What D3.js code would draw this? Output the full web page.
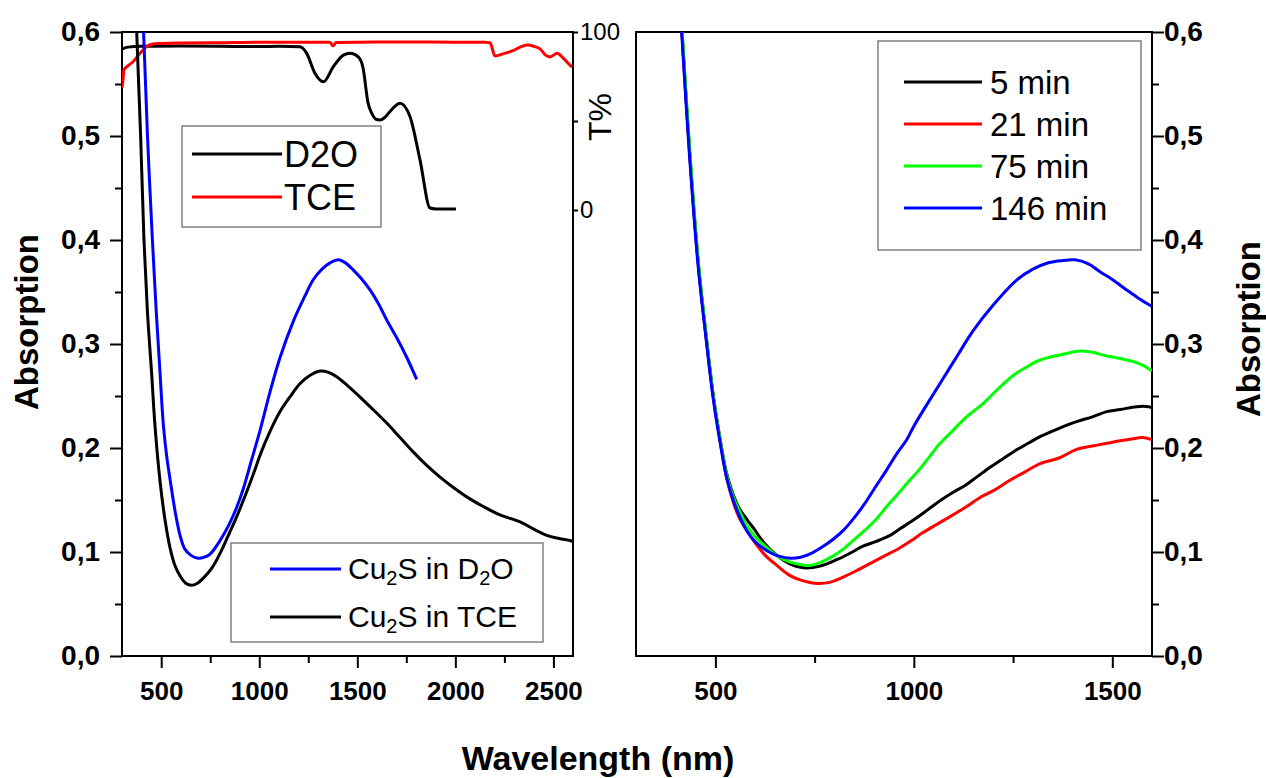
<!DOCTYPE html>
<html>
<head>
<meta charset="utf-8">
<script src="https://cdn.jsdelivr.net/npm/d3@7"></script>
<style>
  body { margin: 0; background: #fff; }
  text { font-family: "Liberation Sans", Arial, sans-serif; fill: #000; }
</style>
</head>
<body>
<script>
// ---- left panel: Cu2S absorption spectra ----
const d2oWl  = [395, 410, 430, 455, 475, 494, 511, 528, 545, 570, 596, 620, 650, 689, 720, 749, 800, 850, 885, 919, 960, 1004, 1055, 1106, 1174, 1230, 1276, 1320, 1361, 1403, 1440, 1480, 1520, 1565, 1610, 1650, 1701, 1750, 1803];
const d2oAbs = [0.70, 0.60, 0.50, 0.40, 0.33, 0.272, 0.222, 0.192, 0.17, 0.14, 0.116, 0.103, 0.097, 0.094, 0.095, 0.098, 0.111, 0.128, 0.143, 0.161, 0.188, 0.217, 0.254, 0.287, 0.322, 0.345, 0.362, 0.372, 0.378, 0.381, 0.378, 0.371, 0.363, 0.352, 0.338, 0.323, 0.306, 0.288, 0.266];

const tceWl  = [360, 375, 395, 412, 430, 451, 468, 494, 520, 545, 570, 596, 625, 655, 685, 715, 760, 800, 840, 885, 930, 970, 1010, 1055, 1106, 1160, 1208, 1260, 1310, 1350, 1395, 1450, 1514, 1580, 1650, 1718, 1786, 1850, 1922, 1990, 2058, 2140, 2228, 2330, 2400, 2466, 2530, 2585, 2600];
const tceAbs = [0.70, 0.60, 0.50, 0.40, 0.33, 0.272, 0.222, 0.168, 0.13, 0.104, 0.087, 0.077, 0.07, 0.068, 0.070, 0.075, 0.085, 0.0987, 0.115, 0.134, 0.155, 0.175, 0.196, 0.216, 0.235, 0.25, 0.262, 0.27, 0.274, 0.273, 0.2686, 0.26, 0.249, 0.237, 0.224, 0.21, 0.196, 0.184, 0.172, 0.162, 0.153, 0.144, 0.1356, 0.129, 0.122, 0.116, 0.113, 0.111, 0.11];

// solvent transmission (T%)
const d2oTWl = [300, 330, 400, 600, 800, 1000, 1100, 1208, 1242, 1284, 1327, 1378, 1429, 1463, 1505, 1529, 1555, 1573, 1595, 1616, 1640, 1680, 1718, 1769, 1820, 1871, 1900, 2003];
const d2oT   = [90.4, 91.5, 92, 92.1, 92, 91.8, 92, 91.7, 88, 76.8, 72, 80.5, 87, 88, 86, 80, 60, 54.5, 51, 50.6, 52, 57, 60, 52.4, 28, 1.1, 0.6, 0.6];
const tceTWl = [300, 305, 310, 330, 356, 392, 426, 458, 600, 800, 1000, 1200, 1360, 1376, 1392, 1600, 1800, 2000, 2150, 2177, 2202, 2250, 2294, 2330, 2366, 2400, 2432, 2460, 2483, 2519, 2549, 2570, 2595];
const tceT   = [68.5, 73, 78.7, 81, 83.3, 88, 91.8, 93.3, 93.8, 94, 94.3, 94.3, 94.2, 92.2, 94.1, 94.4, 94.4, 94.3, 94.2, 94, 86.5, 88, 89.5, 91.5, 92.7, 92, 90.5, 87, 86, 88, 85.5, 83, 80.3];

// ---- right panel: growth in time ----
const timeLabels = ['5 min', '21 min', '75 min', '146 min'];
const wl5   = [405, 415, 435, 457, 475, 495, 512, 528, 545, 560, 580, 598, 620, 657, 690, 721, 764, 807, 840, 872, 904, 936, 968, 1000, 1033, 1065, 1097, 1129, 1158, 1194, 1234, 1258, 1290, 1318, 1360, 1410, 1450, 1486, 1520, 1561, 1585, 1600];
const abs5  = [0.67, 0.605, 0.485, 0.377, 0.313, 0.249, 0.208, 0.176, 0.155, 0.142, 0.131, 0.122, 0.11, 0.096, 0.088, 0.0848, 0.0864, 0.0928, 0.099, 0.1056, 0.11, 0.1152, 0.123, 0.131, 0.14, 0.149, 0.157, 0.164, 0.172, 0.182, 0.192, 0.198, 0.205, 0.211, 0.218, 0.2253, 0.23, 0.235, 0.237, 0.2397, 0.24, 0.239];
const wl21  = [405, 415, 435, 457, 475, 495, 512, 528, 545, 560, 580, 598, 625, 657, 685, 710, 735, 759, 790, 818, 855, 893, 925, 958, 990, 1022, 1055, 1086, 1130, 1172, 1205, 1242, 1280, 1318, 1366, 1410, 1450, 1486, 1520, 1553, 1575, 1600];
const abs21 = [0.67, 0.605, 0.485, 0.377, 0.313, 0.249, 0.207, 0.172, 0.148, 0.133, 0.12, 0.11, 0.097, 0.0864, 0.078, 0.0736, 0.071, 0.0698, 0.071, 0.0752, 0.082, 0.0896, 0.096, 0.1024, 0.11, 0.1184, 0.126, 0.1328, 0.143, 0.1536, 0.16, 0.169, 0.177, 0.185, 0.1904, 0.1987, 0.202, 0.2045, 0.207, 0.209, 0.21, 0.208];
const wl75  = [405, 415, 435, 457, 475, 495, 512, 528, 545, 560, 580, 600, 630, 657, 690, 715, 737, 765, 796, 823, 850, 877, 904, 930, 958, 985, 1011, 1040, 1065, 1091, 1130, 1175, 1210, 1251, 1285, 1318, 1368, 1419, 1450, 1486, 1520, 1553, 1580, 1600];
const abs75 = [0.68, 0.61, 0.49, 0.38, 0.315, 0.25, 0.208, 0.175, 0.153, 0.14, 0.125, 0.115, 0.104, 0.096, 0.09, 0.088, 0.087, 0.09, 0.096, 0.103, 0.112, 0.121, 0.131, 0.143, 0.155, 0.167, 0.178, 0.192, 0.204, 0.214, 0.229, 0.243, 0.256, 0.27, 0.278, 0.2846, 0.2894, 0.2933, 0.292, 0.2885, 0.286, 0.283, 0.279, 0.274];
const wl146  = [405, 415, 435, 457, 475, 495, 512, 528, 545, 560, 580, 600, 635, 660, 689, 715, 743, 770, 796, 823, 850, 877, 904, 930, 958, 982, 1000, 1030, 1066, 1110, 1150, 1200, 1259, 1300, 1335, 1370, 1406, 1440, 1469, 1500, 1536, 1570, 1600];
const abs146 = [0.66, 0.6, 0.48, 0.373, 0.31, 0.246, 0.205, 0.172, 0.15, 0.135, 0.12, 0.11, 0.1, 0.096, 0.094, 0.095, 0.099, 0.105, 0.112, 0.121, 0.133, 0.147, 0.163, 0.178, 0.195, 0.208, 0.221, 0.24, 0.262, 0.289, 0.313, 0.3375, 0.3615, 0.372, 0.3776, 0.38, 0.381, 0.377, 0.3695, 0.362, 0.352, 0.343, 0.336];

const absTicks = [0, 0.1, 0.2, 0.3, 0.4, 0.5, 0.6];
const absMinor = [0.05, 0.15, 0.25, 0.35, 0.45, 0.55];
const xTicksL = [500, 1000, 1500, 2000, 2500];
const xMinorL = [750, 1250, 1750, 2250];
const xTicksR = [500, 1000, 1500];
const xMinorR = [750, 1250];

const width = 1266, height = 778;
const zip = (xs, ys) => xs.map((x, i) => [x, ys[i]]);
const commaFmt = d => d3.format('.1f')(d).replace('.', ',');

const svg = d3.select('body').append('svg')
  .attr('width', width)
  .attr('height', height);

// scales
const xL = d3.scaleLinear().domain([300, 2600]).range([122, 573]);
const yL = d3.scaleLinear().domain([0, 0.6]).range([656, 32]);
const yT = d3.scaleLinear().domain([0, 100]).range([210, 32]);
const xR = d3.scaleLinear().domain([300, 1600]).range([636, 1152]);
const yR = d3.scaleLinear().domain([0, 0.6]).range([656, 32]);

const defs = svg.append('defs');
defs.append('clipPath').attr('id', 'clipL').append('rect')
  .attr('x', 122).attr('y', 32).attr('width', 451).attr('height', 624);
defs.append('clipPath').attr('id', 'clipR').append('rect')
  .attr('x', 636).attr('y', 32).attr('width', 516).attr('height', 624);

const styleAxis = function(g, size, weight) {
  g.select('.domain').remove();
  g.selectAll('line').attr('stroke', '#000').attr('stroke-width', 2);
  g.selectAll('text').attr('font-size', size).attr('font-weight', weight)
    .attr('font-family', '"Liberation Sans", Arial, sans-serif');
};

const drawAxis = function(axis, tx, ty, size, weight) {
  const g = svg.append('g').attr('transform', 'translate(' + tx + ',' + ty + ')').call(axis);
  styleAxis(g, size, weight);
  return g;
};

// ---- left panel axes ----
drawAxis(d3.axisBottom(xL).tickValues(xTicksL).tickSize(12).tickPadding(14).tickFormat(d3.format('d')), 0, 656, 26, 'bold');
drawAxis(d3.axisBottom(xL).tickValues(xMinorL).tickSize(7).tickFormat(''), 0, 656, 26, 'bold');
drawAxis(d3.axisLeft(yL).tickValues(absTicks).tickSize(12).tickPadding(10).tickFormat(commaFmt), 122, 0, 28, 'bold');
drawAxis(d3.axisLeft(yL).tickValues(absMinor).tickSize(7).tickFormat(''), 122, 0, 28, 'bold');
// T% axis
drawAxis(d3.axisRight(yT).tickValues([0, 100]).tickSize(5).tickPadding(2).tickFormat(d3.format('d')), 573, 0, 24, 'normal');
drawAxis(d3.axisRight(yT).tickValues([50]).tickSize(5).tickFormat(''), 573, 0, 24, 'normal');

svg.append('rect').attr('x', 122).attr('y', 32).attr('width', 451).attr('height', 624)
  .attr('fill', 'none').attr('stroke', '#000').attr('stroke-width', 2);

// ---- right panel axes ----
drawAxis(d3.axisBottom(xR).tickValues(xTicksR).tickSize(12).tickPadding(14).tickFormat(d3.format('d')), 0, 656, 26, 'bold');
drawAxis(d3.axisBottom(xR).tickValues(xMinorR).tickSize(7).tickFormat(''), 0, 656, 26, 'bold');
drawAxis(d3.axisRight(yR).tickValues(absTicks).tickSize(12).tickPadding(0).tickFormat(commaFmt), 1152, 0, 28, 'bold');
drawAxis(d3.axisRight(yR).tickValues(absMinor).tickSize(7).tickFormat(''), 1152, 0, 28, 'bold');

svg.append('rect').attr('x', 636).attr('y', 32).attr('width', 516).attr('height', 624)
  .attr('fill', 'none').attr('stroke', '#000').attr('stroke-width', 2);

// ---- curves ----
const smooth = d3.curveCatmullRom.alpha(0.5);
const lineL = d3.line().x(d => xL(d[0])).y(d => yL(d[1])).curve(smooth);
const lineT = d3.line().x(d => xL(d[0])).y(d => yT(d[1])).curve(d3.curveMonotoneX);
const lineR = d3.line().x(d => xR(d[0])).y(d => yR(d[1])).curve(smooth);

const gL = svg.append('g').attr('clip-path', 'url(#clipL)');
const leftSeries = [
  {data: zip(d2oTWl, d2oT), line: lineT, color: '#000'},
  {data: zip(tceTWl, tceT), line: lineT, color: '#ff0000'},
  {data: zip(tceWl, tceAbs), line: lineL, color: '#000'},
  {data: zip(d2oWl, d2oAbs), line: lineL, color: '#0000ff'}
];
leftSeries.forEach(s => {
  gL.append('path').attr('d', s.line(s.data))
    .attr('fill', 'none').attr('stroke', s.color).attr('stroke-width', 3);
});

const rightColors = ['#000', '#ff0000', '#00ff00', '#0000ff'];
const rightSeries = [zip(wl5, abs5), zip(wl21, abs21), zip(wl75, abs75), zip(wl146, abs146)];
const gR = svg.append('g').attr('clip-path', 'url(#clipR)');
rightSeries.forEach((s, i) => {
  gR.append('path').attr('d', lineR(s))
    .attr('fill', 'none').attr('stroke', rightColors[i]).attr('stroke-width', 3);
});

// ---- legends ----
// solvent legend
svg.append('rect').attr('x', 182).attr('y', 126).attr('width', 199).attr('height', 101)
  .attr('fill', '#fff').attr('stroke', '#808080').attr('stroke-width', 1.5);
[['D2O', '#000', 154], ['TCE', '#ff0000', 197]].forEach(it => {
  svg.append('line').attr('x1', 192).attr('x2', 282).attr('y1', it[2]).attr('y2', it[2])
    .attr('stroke', it[1]).attr('stroke-width', 3);
  svg.append('text').attr('x', 284).attr('y', it[2]).attr('dy', '0.36em')
    .attr('font-size', 36).text(it[0]);
});

// sample legend
svg.append('rect').attr('x', 231).attr('y', 543).attr('width', 312).attr('height', 99)
  .attr('fill', '#fff').attr('stroke', '#808080').attr('stroke-width', 1.5);
const sampleItems = [
  {parts: [['Cu', 0], ['2', 1], ['S in D', 0], ['2', 1], ['O', 0]], color: '#0000ff', y: 569},
  {parts: [['Cu', 0], ['2', 1], ['S in TCE', 0]], color: '#000', y: 617}
];
sampleItems.forEach(it => {
  svg.append('line').attr('x1', 270).attr('x2', 341).attr('y1', it.y).attr('y2', it.y)
    .attr('stroke', it.color).attr('stroke-width', 3);
  const t = svg.append('text').attr('x', 348).attr('y', it.y + 10).attr('font-size', 30);
  it.parts.forEach(p => {
    const ts = t.append('tspan').text(p[0]);
    if (p[1]) ts.attr('font-size', 20).attr('baseline-shift', '-30%');
  });
});

// time legend
svg.append('rect').attr('x', 878).attr('y', 41).attr('width', 263).attr('height', 209)
  .attr('fill', '#fff').attr('stroke', '#808080').attr('stroke-width', 1.5);
const legY = d3.scalePoint().domain(timeLabels).range([82, 208]);
timeLabels.forEach((lab, i) => {
  svg.append('line').attr('x1', 904).attr('x2', 982).attr('y1', legY(lab)).attr('y2', legY(lab))
    .attr('stroke', rightColors[i]).attr('stroke-width', 3);
  svg.append('text').attr('x', 990).attr('y', legY(lab)).attr('dy', '0.36em')
    .attr('font-size', 33).text(lab);
});

// ---- titles ----
svg.append('text').attr('transform', 'translate(38,322) rotate(-90)')
  .attr('text-anchor', 'middle').attr('font-size', 33).attr('font-weight', 'bold').text('Absorption');
svg.append('text').attr('transform', 'translate(1260,329) rotate(-90)')
  .attr('text-anchor', 'middle').attr('font-size', 33).attr('font-weight', 'bold').text('Absorption');
svg.append('text').attr('transform', 'translate(611,117) rotate(-90)')
  .attr('text-anchor', 'middle').attr('font-size', 32).text('T%');
svg.append('text').attr('x', 598).attr('y', 770)
  .attr('text-anchor', 'middle').attr('font-size', 34).attr('font-weight', 'bold').text('Wavelength (nm)');
</script>
</body>
</html>
